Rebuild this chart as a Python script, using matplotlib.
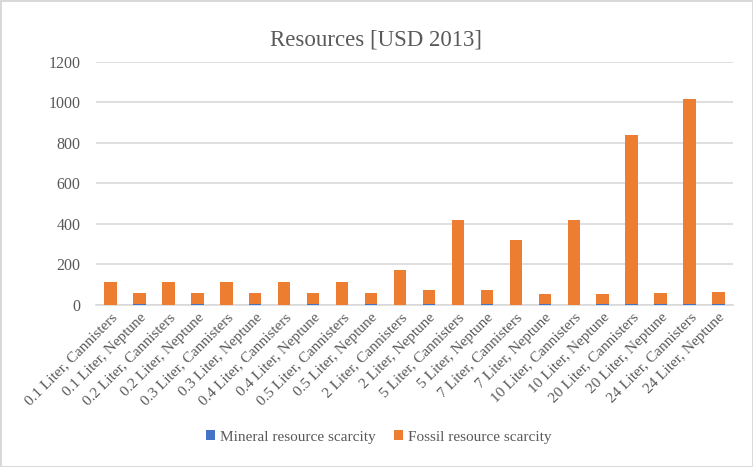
import numpy as np
import matplotlib
matplotlib.use("Agg")
import matplotlib.pyplot as plt

sizes = ["0.1", "0.2", "0.3", "0.4", "0.5", "2", "5", "7", "10", "20", "24"]
containers = ["Cannisters", "Neptune"]
categories = [f"{s} Liter, {c}" for s in sizes for c in containers]

mineral = [0.5, 2.5, 0.5, 2.5, 0.5, 2.5, 0.5, 2.5, 0.5, 2.5, 0.8, 2.5,
           1.5, 2.5, 1.2, 2.5, 1.5, 2.5, 2.5, 2.5, 3, 2.5]
fossil = [113, 59, 113, 59, 113, 59, 113, 59, 113, 59, 172, 72,
          419, 69, 321, 53, 419, 54, 837, 58, 1011, 60]

BLUE = "#4472C4"
ORANGE = "#ED7D31"
GREY = "#595959"
GRID = "#d9d9d9"

plt.rcParams["font.family"] = ["Liberation Serif", "DejaVu Serif"]

fig = plt.figure(figsize=(7.53, 4.67), dpi=100)
fig.patch.set_edgecolor(GRID)
fig.patch.set_linewidth(2)
ax = fig.add_axes([0.1275, 0.3469, 0.8459, 0.5214])

x = np.arange(len(categories))
w = 0.43
ax.bar(x, mineral, width=w, color=BLUE, label="Mineral resource scarcity", zorder=3)
ax.bar(x, fossil, width=w, bottom=mineral, color=ORANGE,
       label="Fossil resource scarcity", zorder=3)

ax.set_xlim(-0.5, len(categories) - 0.5)
ax.set_ylim(0, 1200)
ax.set_yticks(range(0, 1201, 200))
ax.yaxis.grid(True, color=GRID, linewidth=1.2)
ax.set_axisbelow(True)
for side in ["top", "right", "left"]:
    ax.spines[side].set_visible(False)
ax.spines["bottom"].set_color(GRID)
ax.spines["bottom"].set_linewidth(1.2)
ax.tick_params(axis="both", length=0, colors=GREY)
ax.tick_params(axis="y", pad=11, labelsize=11.5)
ax.tick_params(axis="x", pad=4, labelsize=11)

ax.set_xticks(x)
ax.set_xticklabels(categories, rotation=45, ha="right", rotation_mode="anchor")

fig.text(0.5, 0.915, "Resources [USD 2013]", ha="center", va="center",
         fontsize=16.5, color=GREY)

fig.legend(loc="center", bbox_to_anchor=(0.503, 0.064), ncol=2, frameon=False,
           fontsize=11, labelcolor=GREY, handlelength=0.6, handleheight=0.6,
           handletextpad=0.3, columnspacing=1.2)

fig.savefig("out.png", dpi=100)
